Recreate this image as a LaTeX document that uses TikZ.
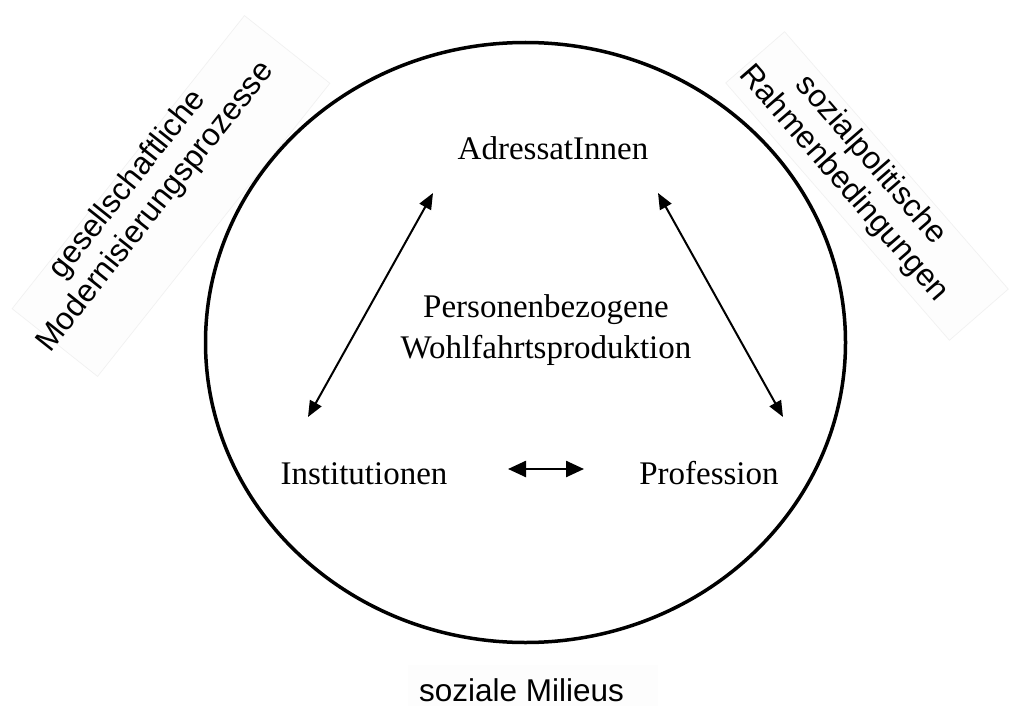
\documentclass[tikz,border=0pt]{standalone}
\usepackage{fontspec}
\setmainfont{Liberation Serif}
\newfontfamily\arialf{Liberation Sans}
\usetikzlibrary{arrows.meta}
\begin{document}
\begin{tikzpicture}[x=1pt,y=-1pt,
  serif/.style={font=\fontsize{33}{41}\selectfont, inner sep=0pt},
  sans/.style={font=\arialf\fontsize{31.5}{36}\selectfont, inner sep=0pt, align=center},
  rel/.style={line width=2pt, {Triangle[length=16pt,width=13pt]}-{Triangle[length=16pt,width=13pt]}},
  relh/.style={line width=2.5pt, {Triangle[length=18pt,width=16pt]}-{Triangle[length=18pt,width=16pt]}},
  faintbox/.style={fill=black!0.8, draw=black!6, line width=0.6pt}
]
\useasboundingbox (0,0) rectangle (1009,706);
\fill[white] (0,0) rectangle (1009,706);

% faint background boxes of the outer labels
\node[faintbox, rotate=51.6, minimum width=374pt, minimum height=109pt] (lbox) at (171,196) {};
\node[faintbox, rotate=-49, minimum width=341pt, minimum height=78pt] (rbox) at (867,186) {};
\fill[black!0.8] (408,665) rectangle (658,720);

% outer circle
\draw[line width=3.5pt] (525.5,342.5) ellipse [x radius=320, y radius=300];

% texts
\node[serif, anchor=base] (adr) at (553,159) {AdressatInnen};
\node[serif, anchor=base] (inst) at (364,484) {Institutionen};
\node[serif, anchor=base] (prof) at (709,484) {Profession};
\node[serif, align=center] (pwp) at (546,330) {Personenbezogene\\Wohlfahrtsproduktion};

\node[sans, rotate=51.6] (lmod) at (142,196) {gesellschaftliche\\Modernisierungsprozesse};
\node[sans, rotate=-49] (rsoz) at (857,172) {sozialpolitische\\Rahmenbedingungen};
\node[sans, anchor=base] (mil) at (521.5,701) {soziale Milieus};

% arrow end points
\coordinate (a1) at (433,193);
\coordinate (a2) at (308,417);
\coordinate (b1) at (658,193);
\coordinate (b2) at (783,417);
\coordinate (c1) at (508,469);
\coordinate (c2) at (584,469);

\draw[rel] (a1) -- (a2);
\draw[rel] (b1) -- (b2);
\draw[relh] (c1) -- (c2);
\end{tikzpicture}
\end{document}
